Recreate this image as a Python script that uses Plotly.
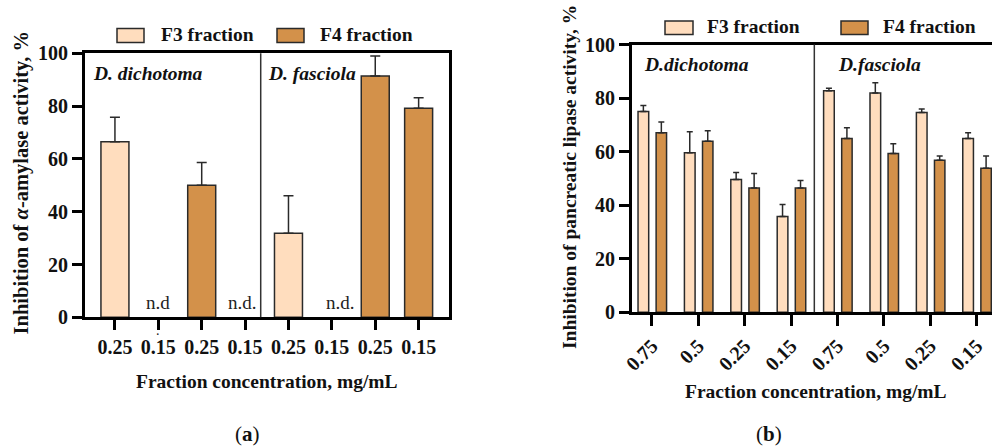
import plotly.graph_objects as go

# ---------------- data ----------------
a_ticks = ["0.25", "0.15", "0.25", "0.15", "0.25", "0.15", "0.25", "0.15"]
a_fraction = ["F3", "F3", "F4", "F4", "F3", "F3", "F4", "F4"]
a_values = [66.5, None, 50.0, None, 31.8, None, 91.4, 79.2]
a_err = [9.3, 0, 8.6, 0, 14.2, 0, 7.6, 4.0]
a_nd = ["n.d", "n.d.", "n.d."]
a_nd_pos = [1, 2.93, 5.2]

b_ticks = ["0.75", "0.5", "0.25", "0.15", "0.75", "0.5", "0.25", "0.15"]
b_f3 = [75.0, 59.6, 49.6, 35.8, 82.7, 81.9, 74.6, 64.9]
b_f3_err = [2.2, 7.8, 2.6, 4.5, 1.0, 3.8, 1.3, 2.1]
b_f4 = [67.0, 63.9, 46.4, 46.4, 64.9, 59.3, 56.8, 53.8]
b_f4_err = [4.1, 3.9, 5.4, 2.8, 4.0, 3.6, 1.6, 4.6]

species = ["D. dichotoma", "D. fasciola"]
species_b = ["D.dichotoma", "D.fasciola"]

# ---------------- style ----------------
W, H = 992, 446
FONT = "Liberation Serif"
C_F3 = "#FFDDBE"
C_F4 = "#D3914A"
EDGE = "#2a2a2a"
colors = {"F3": C_F3, "F4": C_F4}

def px(x):
    return x / W

def py(y):
    return 1 - y / H

fig = go.Figure()

# ---- panel (a) ----
for fr in ["F3", "F4"]:
    xs = [i for i, f in enumerate(a_fraction) if f == fr and a_values[i] is not None]
    fig.add_trace(go.Bar(
        x=xs, y=[a_values[i] for i in xs],
        error_y=dict(type="data", symmetric=False, array=[a_err[i] for i in xs],
                     arrayminus=[0] * len(xs), color=EDGE, thickness=1.5, width=5),
        marker=dict(color=colors[fr], line=dict(color=EDGE, width=1.5)),
        width=0.645, xaxis="x", yaxis="y", showlegend=False, name=fr + " fraction",
    ))

# ---- panel (b) ----
xb = list(range(len(b_ticks)))
fig.add_trace(go.Bar(
    x=xb, y=b_f3, width=0.23, offset=-0.30,
    error_y=dict(type="data", symmetric=False, array=b_f3_err, arrayminus=[0] * 8,
                 color=EDGE, thickness=1.5, width=3),
    marker=dict(color=C_F3, line=dict(color=EDGE, width=1.5)),
    xaxis="x2", yaxis="y2", showlegend=False, name="F3 fraction",
))
fig.add_trace(go.Bar(
    x=xb, y=b_f4, width=0.225, offset=0.09,
    error_y=dict(type="data", symmetric=False, array=b_f4_err, arrayminus=[0] * 8,
                 color=EDGE, thickness=1.5, width=3),
    marker=dict(color=C_F4, line=dict(color=EDGE, width=1.5)),
    xaxis="x2", yaxis="y2", showlegend=False, name="F4 fraction",
))

tickfont = dict(family=FONT, size=20, color="#111", weight="bold")
common_axis = dict(showline=True, linecolor="#000", ticks="outside", tickcolor="#000",
                   showgrid=False, zeroline=False, tickfont=tickfont, automargin=False)

fig.update_layout(
    width=W, height=H, margin=dict(l=0, r=0, t=0, b=0, autoexpand=False),
    paper_bgcolor="white", plot_bgcolor="white", barmode="overlay",
    xaxis=dict(domain=[px(85), px(449)], range=[-0.69, 7.70], tickmode="array",
               tickvals=list(range(8)), ticktext=a_ticks, linewidth=3, mirror=True,
               ticklen=10, tickwidth=3, anchor="y", **common_axis),
    yaxis=dict(domain=[py(317.3), py(53.3)], range=[0, 100], dtick=20, linewidth=3,
               mirror=True, ticklen=10, tickwidth=3, anchor="x", **common_axis),
    xaxis2=dict(domain=[px(632), 1.0], range=[-0.43, 7.33], tickmode="array",
                tickvals=xb, ticktext=b_ticks, tickangle=-45, linewidth=3, mirror=True,
                ticklen=11, tickwidth=3, anchor="y2", **common_axis),
    yaxis2=dict(domain=[py(312.3), py(44.5)], range=[0, 100], dtick=20, linewidth=3,
                ticklen=10, tickwidth=3, anchor="x2", **common_axis),
)

shapes = []
annotations = []

# divider lines
shapes.append(dict(type="line", xref="x", yref="y domain", x0=3.36, x1=3.36, y0=0, y1=1,
                   line=dict(color="#333", width=1.5)))
shapes.append(dict(type="line", xref="x2", yref="y2 domain", x0=3.5, x1=3.5, y0=0, y1=1,
                   line=dict(color="#333", width=1.5)))

# legends drawn as boxes + text
def legend_item(x0, x1, y0, y1, color, text, tx):
    shapes.append(dict(type="rect", xref="paper", yref="paper", x0=px(x0), x1=px(x1),
                       y0=py(y1), y1=py(y0), fillcolor=color,
                       line=dict(color=EDGE, width=1.5)))
    annotations.append(dict(text=text, xref="paper", yref="paper", x=px(tx),
                            y=py((y0 + y1) / 2 - 1), xanchor="left", yanchor="middle",
                            showarrow=False,
                            font=dict(family=FONT, size=19.5, color="#111", weight="bold")))

legend_item(117, 144, 28.5, 42.5, C_F3, "F3 fraction", 159)
legend_item(277, 304, 28.5, 42.5, C_F4, "F4 fraction", 318)
legend_item(665, 693, 21, 34.5, C_F3, "F3 fraction", 705)
legend_item(841, 868, 21, 34.5, C_F4, "F4 fraction", 881)

# species labels
spfont = dict(family=FONT, size=19.5, color="#111", style="italic", weight="bold")
annotations.append(dict(text=species[0], xref="x", yref="y", x=-0.55, y=92.5,
                        xanchor="left", yanchor="middle", showarrow=False, font=spfont))
annotations.append(dict(text=species[1], xref="x", yref="y", x=3.49, y=92.5,
                        xanchor="left", yanchor="middle", showarrow=False, font=spfont))
annotations.append(dict(text=species_b[0], xref="x2", yref="y2", x=-0.21, y=92.6,
                        xanchor="left", yanchor="middle", showarrow=False, font=spfont))
annotations.append(dict(text=species_b[1], xref="x2", yref="y2", x=3.97, y=92.6,
                        xanchor="left", yanchor="middle", showarrow=False, font=spfont))

# n.d. labels
for t, xpos in zip(a_nd, a_nd_pos):
    annotations.append(dict(text=t, xref="x", yref="y", x=xpos, y=5.6, xanchor="center",
                            yanchor="middle", showarrow=False,
                            font=dict(family=FONT, size=19, color="#222")))
annotations.append(dict(text=".", xref="x", yref="paper", x=1, y=py(330), xanchor="center",
                        yanchor="middle", showarrow=False,
                        font=dict(family=FONT, size=14, color="#222")))

# axis titles
tfont = dict(family=FONT, size=19.5, color="#111", weight="bold")
annotations.append(dict(text="Inhibition of <i>α</i>-amylase activity, %", xref="paper",
                        yref="paper", x=px(21.5), y=py(183), textangle=-90,
                        xanchor="center", yanchor="middle", showarrow=False,
                        font=dict(family=FONT, size=20.5, color="#111", weight="bold")))
annotations.append(dict(text="Inhibition of pancreatic lipase activity, %", xref="paper",
                        yref="paper", x=px(570), y=py(177), textangle=-90,
                        xanchor="center", yanchor="middle", showarrow=False, font=tfont))
annotations.append(dict(text="Fraction concentration, mg/mL", xref="paper", yref="paper",
                        x=px(267), y=py(381), xanchor="center", yanchor="middle",
                        showarrow=False, font=tfont))
annotations.append(dict(text="Fraction concentration, mg/mL", xref="paper", yref="paper",
                        x=px(816), y=py(391), xanchor="center", yanchor="middle",
                        showarrow=False, font=tfont))
annotations.append(dict(text="(<b>a</b>)", xref="paper", yref="paper", x=px(247.5),
                        y=py(434), xanchor="center", yanchor="middle", showarrow=False,
                        font=dict(family=FONT, size=21, color="#111")))
annotations.append(dict(text="(<b>b</b>)", xref="paper", yref="paper", x=px(769),
                        y=py(434), xanchor="center", yanchor="middle", showarrow=False,
                        font=dict(family=FONT, size=21, color="#111")))

fig.update_layout(shapes=shapes, annotations=annotations)
# remove the browser's default 8px page margin so the figure fills the window exactly
fig.write_html("out.html", config={"displayModeBar": False},
               post_script="document.body.style.margin='0';document.body.style.overflow='hidden';")
